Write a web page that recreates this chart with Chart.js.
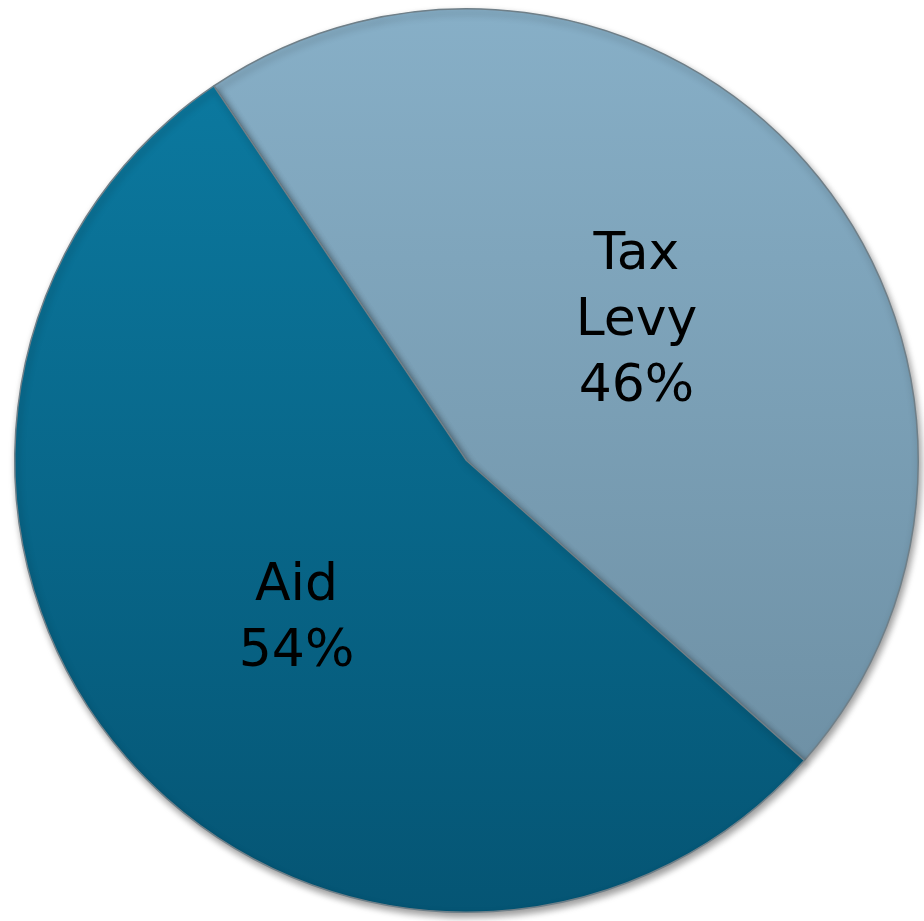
<!DOCTYPE html>
<html>
<head>
<meta charset="utf-8">
<script src="https://cdn.jsdelivr.net/npm/chart.js@4"></script>
<style>
  html, body { margin: 0; padding: 0; background: #fff; }
  #wrap { width: 924px; height: 921px; }
</style>
</head>
<body>
<div id="wrap"><canvas id="pie"></canvas></div>
<script>
const categories = ["Tax Levy", "Aid"];
const shares = [46, 54];
const sliceLabels = [["Tax", "Levy", "46%"], ["Aid", "54%"]];

// vertical gradients per slice: [top, bottom]
const shades = [["#87afc7", "#6a8b9f"], ["#0c7ca3", "#055574"]];

function sliceFill(ctx) {
  const area = ctx.chart.chartArea;
  if (!area) return shades[ctx.dataIndex][0];
  const g = ctx.chart.ctx.createLinearGradient(0, area.top, 0, area.bottom);
  g.addColorStop(0, shades[ctx.dataIndex][0]);
  g.addColorStop(1, shades[ctx.dataIndex][1]);
  return g;
}

const shadowPlugin = {
  id: "shadow",
  beforeDatasetsDraw(chart) {
    const c = chart.ctx;
    c.save();
    c.shadowColor = "rgba(0,0,0,0.4)";
    c.shadowBlur = 7;
    c.shadowOffsetX = 2;
    c.shadowOffsetY = 4;
  },
  afterDatasetsDraw(chart) {
    chart.ctx.restore();
  }
};

const labelPlugin = {
  id: "sliceText",
  afterDatasetsDraw(chart) {
    const c = chart.ctx;
    const meta = chart.getDatasetMeta(0);
    c.save();
    c.font = "52px 'DejaVu Sans'";
    c.fillStyle = "#000";
    c.textAlign = "center";
    c.textBaseline = "middle";
    const lh = 66;
    meta.data.forEach((arc, i) => {
      const p = arc.tooltipPosition();
      const lines = sliceLabels[i];
      const y0 = p.y + 10 - (lines.length - 1) * lh / 2;
      lines.forEach((t, k) => c.fillText(t, p.x, y0 + k * lh));
    });
    c.restore();
  }
};

new Chart(document.getElementById("pie"), {
  type: "pie",
  data: {
    labels: categories,
    datasets: [{
      data: shares,
      backgroundColor: sliceFill,
      borderColor: "#6f7f88",
      borderWidth: 1.5
    }]
  },
  options: {
    responsive: true,
    maintainAspectRatio: false,
    animation: false,
    rotation: -34,
    layout: { padding: { left: 12, right: 3, top: 8, bottom: 8 } },
    plugins: {
      legend: { display: false },
      tooltip: { enabled: false }
    }
  },
  plugins: [shadowPlugin, labelPlugin]
});
</script>
</body>
</html>
